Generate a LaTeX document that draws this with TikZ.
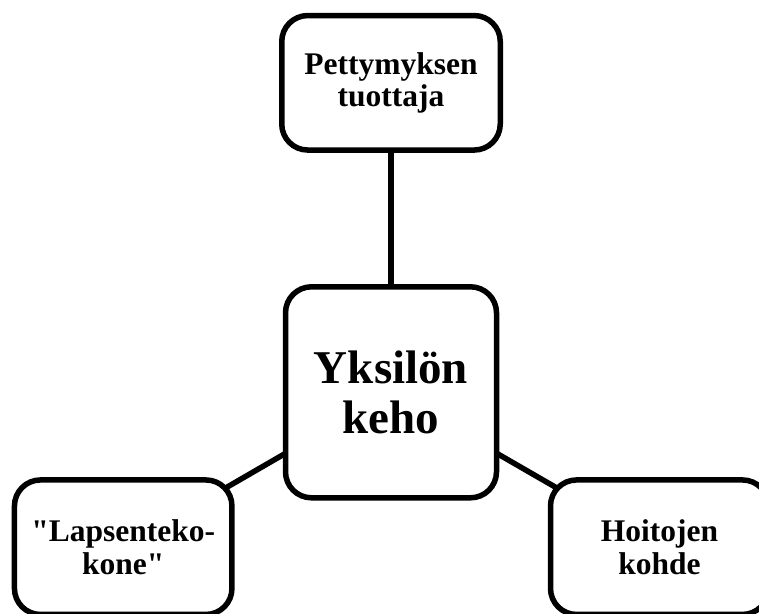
\documentclass[tikz,border=0pt]{standalone}
\usepackage{fontspec}
\setmainfont{Liberation Serif}[Ligatures=TeXOff]
\usetikzlibrary{backgrounds}
\begin{document}
\begin{tikzpicture}[x=1pt,y=-1pt,
  box/.style={draw=black, line width=5.5pt, rounded corners=26pt, fill=white,
    rectangle, align=center, inner sep=0pt, font=\bfseries\fontsize{31.5}{32.5}\selectfont},
  bigbox/.style={box, font=\bfseries\fontsize{47}{50}\selectfont},
  link/.style={draw=black, line width=5.5pt}]
\useasboundingbox (0,0) rectangle (759,613);
\node[box, minimum width=218.5pt, minimum height=134.5pt] (top) at (391,82.8) {Pettymyksen\\tuottaja};
\node[bigbox, minimum width=211pt, minimum height=211pt] (mid) at (391,392.3) {Yksilön\\keho};
\node[box, minimum width=217.5pt, minimum height=134.5pt] (left) at (123.2,547.2) {"Lapsenteko-\\kone"};
\node[box, minimum width=218pt, minimum height=134.5pt] (right) at (659.5,547.2) {Hoitojen\\kohde};
\begin{scope}[on background layer]
\draw[link] (top.center) -- (mid.center);
\draw[link] (mid.center) -- (left.center);
\draw[link] (mid.center) -- (right.center);
\end{scope}
\end{tikzpicture}
\end{document}
